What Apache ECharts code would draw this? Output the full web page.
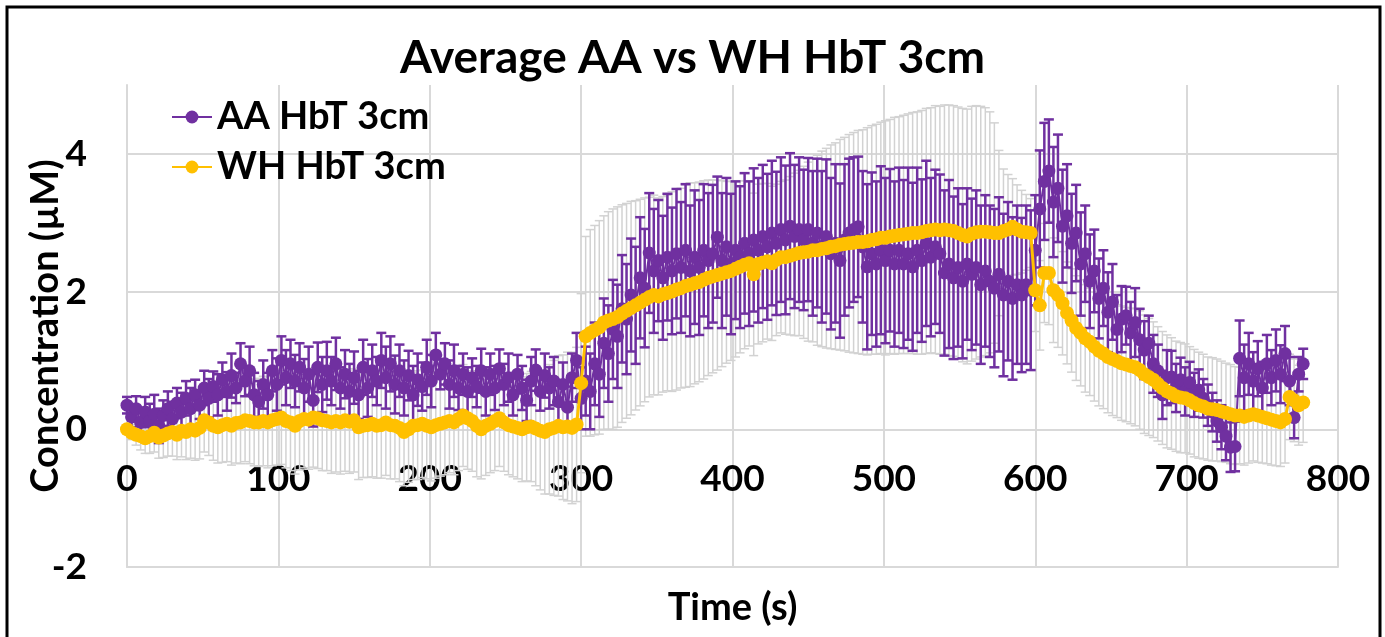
<!DOCTYPE html>
<html>
<head>
<meta charset="utf-8">
<script src="https://cdn.jsdelivr.net/npm/echarts@6/dist/echarts.min.js"></script>
<style>
  html, body { margin: 0; padding: 0; background: #fff; }
  #chart { width: 1385px; height: 637px; }
</style>
</head>
<body>
<div id="chart"></div>
<script>
// samples are 3 s apart, starting at t = 0
var step = 3;

var aaMean = [
  0.35, 0.18, 0.3, 0.1, 0.25, 0.12, 0.22, 0.05, 0.2, 0.3,
  0.15, 0.38, 0.25, 0.45, 0.3, 0.5, 0.35, 0.6, 0.45, 0.62,
  0.5, 0.72, 0.55, 0.78, 0.6, 0.95, 0.7, 0.85, 0.5, 0.4,
  0.65, 0.5, 0.85, 0.65, 1.0, 0.75, 0.95, 0.7, 0.9, 0.6,
  0.8, 0.42, 0.9, 0.65, 0.85, 0.7, 0.95, 0.6, 0.8, 0.55,
  0.75, 0.5, 0.9, 0.6, 0.85, 0.7, 1.0, 0.75, 0.95, 0.65,
  0.85, 0.6, 0.78, 0.5, 0.72, 0.62, 0.9, 0.7, 1.08, 0.8,
  0.95, 0.65, 0.85, 0.6, 0.8, 0.55, 0.75, 0.62, 0.85, 0.55,
  0.8, 0.6, 0.88, 0.65, 0.75, 0.5, 0.8, 0.6, 0.42, 0.7,
  0.86, 0.55, 0.78, 0.6, 0.7, 0.4, 0.65, 0.32, 0.75, 1.0,
  0.45, 0.7, 0.55, 0.95, 0.8, 1.25, 1.1, 1.45, 1.35, 1.75,
  1.6, 1.95, 1.8, 2.2, 2.05, 2.56, 2.3, 2.45, 2.2, 2.5,
  2.3, 2.55, 2.35, 2.6, 2.3, 2.5, 2.35, 2.6, 2.45, 2.55,
  2.79, 2.45, 2.65, 2.4, 2.6, 2.5, 2.7, 2.55, 2.75, 2.6,
  2.8, 2.65, 2.85, 2.7, 2.9, 2.75, 2.95, 2.8, 2.9, 2.75,
  2.9, 2.7, 2.85, 2.65, 2.8, 2.55, 2.7, 2.45, 2.75, 2.85,
  2.9, 2.94, 2.65, 2.36, 2.55, 2.4, 2.6, 2.45, 2.6, 2.4,
  2.6, 2.4, 2.55, 2.36, 2.6, 2.45, 2.7, 2.5, 2.65, 2.55,
  2.27, 2.4, 2.2, 2.35, 2.15, 2.4, 2.25, 2.35, 2.1, 2.3,
  2.15, 2.05, 2.25, 1.95, 2.15, 1.9, 2.1, 1.95, 2.1, 2.02,
  2.6, 3.2, 3.6, 3.75, 3.3, 3.5, 2.95, 3.1, 2.7, 2.85,
  2.4, 2.55, 2.15, 2.3, 1.9, 2.05, 1.7, 1.85, 1.45, 1.6,
  1.65, 1.4, 1.55, 1.3, 1.15, 1.25, 0.95, 0.85, 0.5, 0.75,
  0.76, 0.6, 0.72, 0.55, 0.68, 0.5, 0.57, 0.45, 0.35, 0.25,
  0.12, 0.03, -0.1, -0.26, -0.25, 1.03, 0.75, 0.95, 0.7, 0.88,
  0.6, 0.95, 0.75, 1.0, 0.8, 1.1, 0.7, 0.17, 0.8, 0.95
];

var aaErr = [
  0.12, 0.15, 0.18, 0.2, 0.22, 0.25, 0.28, 0.25, 0.22, 0.25,
  0.25, 0.22, 0.28, 0.25, 0.3, 0.22, 0.2, 0.25, 0.28, 0.22,
  0.3, 0.25, 0.28, 0.32, 0.22, 0.3, 0.22, 0.35, 0.32, 0.3,
  0.35, 0.32, 0.3, 0.38, 0.35, 0.4, 0.35, 0.38, 0.35, 0.42,
  0.4, 0.38, 0.36, 0.4, 0.42, 0.35, 0.38, 0.3, 0.35, 0.4,
  0.38, 0.35, 0.4, 0.42, 0.38, 0.35, 0.4, 0.45, 0.4, 0.42,
  0.38, 0.4, 0.36, 0.42, 0.38, 0.35, 0.4, 0.38, 0.32, 0.22,
  0.3, 0.35, 0.38, 0.32, 0.3, 0.35, 0.28, 0.3, 0.32, 0.35,
  0.3, 0.32, 0.28, 0.3, 0.35, 0.3, 0.28, 0.32, 0.3, 0.35,
  0.3, 0.28, 0.32, 0.3, 0.35, 0.3, 0.32, 0.3, 0.35, 0.4,
  0.45, 0.5, 0.55, 0.6, 0.62, 0.65, 0.7, 0.72, 0.75, 0.78,
  0.8, 0.82, 0.85, 0.88, 0.86, 0.87, 0.9, 0.88, 0.9, 0.92,
  0.92, 0.94, 0.95, 0.96, 0.95, 0.97, 0.98, 0.96, 0.98, 1.0,
  0.88, 0.98, 1.0, 1.02, 1.0, 1.03, 1.02, 1.05, 1.04, 1.05,
  1.04, 1.06, 1.05, 1.04, 1.05, 1.08, 1.06, 1.04, 1.05, 1.02,
  1.04, 1.05, 1.08, 1.1, 1.12, 1.1, 1.15, 1.12, 1.1, 1.08,
  1.05, 1.02, 1.1, 1.2, 1.18, 1.2, 1.22, 1.2, 1.18, 1.2,
  1.2, 1.22, 1.25, 1.22, 1.2, 1.18, 1.2, 1.15, 1.12, 1.15,
  1.2, 1.22, 1.18, 1.15, 1.12, 1.1, 1.1, 1.12, 1.15, 1.1,
  1.1, 1.15, 1.12, 1.18, 1.15, 1.18, 1.15, 1.12, 1.15, 1.16,
  0.8, 0.85, 0.85, 0.75, 0.8, 0.78, 0.82, 0.75, 0.72, 0.7,
  0.75, 0.7, 0.68, 0.6, 0.58, 0.55, 0.58, 0.55, 0.5, 0.48,
  0.42, 0.45, 0.5, 0.45, 0.42, 0.4, 0.42, 0.38, 0.35, 0.4,
  0.38, 0.35, 0.32, 0.35, 0.3, 0.32, 0.3, 0.28, 0.3, 0.28,
  0.3, 0.32, 0.35, 0.36, 0.36, 0.55, 0.48, 0.45, 0.42, 0.4,
  0.38, 0.42, 0.4, 0.45, 0.42, 0.4, 0.35, 0.3, 0.25, 0.22
];

var whMean = [
  0.0, -0.05, -0.08, -0.1, -0.13, -0.1, -0.05, -0.12, -0.09, -0.06,
  -0.04, -0.08, -0.02, -0.04, 0.0, -0.02, 0.02, 0.13, 0.1, 0.05,
  0.03, 0.06, 0.08, 0.05, 0.09, 0.1, 0.13, 0.12, 0.1, 0.1,
  0.12, 0.1, 0.13, 0.15, 0.17, 0.12, 0.1, 0.05, 0.12, 0.15,
  0.14, 0.17, 0.16, 0.13, 0.12, 0.1, 0.12, 0.1, 0.13, 0.11,
  0.13, 0.03, 0.05, 0.06, 0.08, 0.05, 0.06, 0.1, 0.06, 0.05,
  0.02, -0.04, 0.0, 0.05, 0.06, 0.08, 0.05, 0.03, 0.06, 0.08,
  0.1, 0.12, 0.1, 0.15, 0.2, 0.16, 0.12, 0.05, 0.0, 0.05,
  0.08, 0.12, 0.16, 0.1, 0.06, 0.04, 0.02, 0.0, 0.03, 0.04,
  0.01, -0.02, -0.04, 0.0, 0.02, 0.05, 0.03, 0.04, 0.02, 0.07,
  0.67, 1.35, 1.4, 1.44, 1.48, 1.55, 1.58, 1.6, 1.63, 1.68,
  1.72, 1.76, 1.8, 1.84, 1.88, 1.92, 1.95, 1.93, 1.96, 1.98,
  2.0, 2.03, 2.05, 2.08, 2.1, 2.12, 2.14, 2.17, 2.2, 2.22,
  2.24, 2.26, 2.28, 2.3, 2.33, 2.36, 2.39, 2.41, 2.25, 2.4,
  2.42, 2.44, 2.41, 2.46, 2.5, 2.5, 2.52, 2.54, 2.56, 2.57,
  2.58, 2.6, 2.6, 2.62, 2.63, 2.65, 2.66, 2.68, 2.69, 2.7,
  2.71, 2.72, 2.72, 2.73, 2.75, 2.76, 2.78, 2.78, 2.8, 2.81,
  2.82, 2.83, 2.84, 2.85, 2.85, 2.86, 2.88, 2.89, 2.9, 2.89,
  2.9, 2.89, 2.88, 2.85, 2.82, 2.8, 2.84, 2.86, 2.87, 2.87,
  2.86, 2.85, 2.85, 2.88, 2.9, 2.94, 2.9, 2.87, 2.86, 2.85,
  2.02, 1.8, 2.27, 2.27, 2.02, 1.95, 1.83, 1.69, 1.58, 1.47,
  1.4, 1.32, 1.27, 1.2, 1.14, 1.1, 1.05, 1.02, 0.99, 0.96,
  0.94, 0.92, 0.9, 0.86, 0.8, 0.76, 0.72, 0.66, 0.6, 0.55,
  0.52, 0.48, 0.46, 0.45, 0.42, 0.38, 0.35, 0.33, 0.3, 0.29,
  0.28, 0.26, 0.24, 0.22, 0.2, 0.2, 0.18, 0.2, 0.22, 0.2,
  0.18, 0.16, 0.14, 0.12, 0.1, 0.15, 0.47, 0.42, 0.35, 0.39
];

var whErr = [
  0.05, 0.1, 0.15, 0.2, 0.22, 0.25, 0.28, 0.3, 0.32, 0.33,
  0.35, 0.36, 0.38, 0.4, 0.42, 0.43, 0.45, 0.46, 0.48, 0.5,
  0.52, 0.54, 0.55, 0.57, 0.58, 0.6, 0.6, 0.62, 0.63, 0.64,
  0.65, 0.66, 0.66, 0.67, 0.68, 0.68, 0.7, 0.7, 0.71, 0.71,
  0.72, 0.72, 0.73, 0.73, 0.72, 0.74, 0.74, 0.75, 0.74, 0.75,
  0.75, 0.76, 0.75, 0.76, 0.77, 0.76, 0.77, 0.77, 0.78, 0.77,
  0.78, 0.78, 0.77, 0.78, 0.79, 0.78, 0.77, 0.78, 0.77, 0.76,
  0.76, 0.75, 0.76, 0.75, 0.74, 0.74, 0.73, 0.74, 0.72, 0.72,
  0.71, 0.72, 0.7, 0.71, 0.72, 0.73, 0.74, 0.76, 0.78, 0.8,
  0.83, 0.86, 0.9, 0.94, 0.98, 1.02, 1.05, 1.08, 1.1, 1.12,
  1.3, 1.45, 1.5, 1.52, 1.55, 1.55, 1.58, 1.6, 1.6, 1.58,
  1.56, 1.55, 1.52, 1.5, 1.48, 1.45, 1.45, 1.43, 1.42, 1.42,
  1.45, 1.46, 1.45, 1.47, 1.48, 1.46, 1.45, 1.44, 1.42, 1.4,
  1.38, 1.35, 1.32, 1.3, 1.28, 1.25, 1.22, 1.2, 1.18, 1.16,
  1.15, 1.13, 1.12, 1.1, 1.1, 1.12, 1.15, 1.18, 1.2, 1.25,
  1.3, 1.33, 1.38, 1.42, 1.45, 1.48, 1.5, 1.53, 1.55, 1.58,
  1.6, 1.62, 1.63, 1.65, 1.66, 1.67, 1.68, 1.7, 1.7, 1.72,
  1.72, 1.73, 1.74, 1.75, 1.76, 1.77, 1.78, 1.78, 1.8, 1.8,
  1.81, 1.82, 1.82, 1.83, 1.84, 1.85, 1.85, 1.84, 1.82, 1.8,
  1.75, 1.6, 1.2, 0.9, 0.8, 0.7, 0.65, 0.6, 0.55, 0.5,
  0.6, 0.65, 0.72, 0.75, 0.76, 0.76, 0.75, 0.74, 0.75, 0.76,
  0.77, 0.78, 0.78, 0.79, 0.8, 0.8, 0.81, 0.82, 0.82, 0.83,
  0.83, 0.84, 0.85, 0.86, 0.86, 0.85, 0.84, 0.83, 0.82, 0.82,
  0.81, 0.8, 0.8, 0.79, 0.78, 0.78, 0.77, 0.76, 0.75, 0.75,
  0.74, 0.73, 0.72, 0.72, 0.71, 0.7, 0.7, 0.69, 0.68, 0.68,
  0.67, 0.66, 0.66, 0.65, 0.64, 0.64, 0.62, 0.6, 0.58, 0.58
];

var aaName = 'AA HbT 3cm';
var whName = 'WH HbT 3cm';
var purple = '#7030A0';
var gold = '#FFC000';
var barGray = '#D2D2D2';
var gridGray = '#D9D9D9';
var font = 'Lato';

function points(mean) {
  return mean.map(function (v, i) { return [i * step, v]; });
}

function bars(mean, err) {
  return mean.map(function (v, i) { return [i * step, v - err[i], v + err[i]]; });
}

function errorBars(data, color, width, capWidth, z) {
  return {
    type: 'custom',
    silent: true,
    z: z,
    data: data,
    encode: { x: 0, y: [1, 2] },
    renderItem: function (params, api) {
      var x = api.value(0);
      var lo = api.coord([x, api.value(1)]);
      var hi = api.coord([x, api.value(2)]);
      var half = capWidth / 2;
      var style = { stroke: color, lineWidth: width };
      return {
        type: 'group',
        children: [
          { type: 'line', shape: { x1: lo[0], y1: lo[1], x2: hi[0], y2: hi[1] }, style: style },
          { type: 'line', shape: { x1: lo[0] - half, y1: lo[1], x2: lo[0] + half, y2: lo[1] }, style: style },
          { type: 'line', shape: { x1: hi[0] - half, y1: hi[1], x2: hi[0] + half, y2: hi[1] }, style: style }
        ]
      };
    }
  };
}

var chart = echarts.init(document.getElementById('chart'));

var boldText = { fontFamily: font, fontWeight: 'bold', color: '#000' };

var option = {
  backgroundColor: '#fff',
  animation: false,
  title: {
    text: 'Average AA vs WH HbT 3cm',
    left: 'center',
    top: 30,
    textStyle: Object.assign({ fontSize: 46 }, boldText)
  },
  legend: {
    data: [aaName, whName],
    orient: 'vertical',
    left: 166,
    top: 93,
    itemWidth: 40,
    itemHeight: 16,
    itemGap: 12,
    textStyle: Object.assign({ fontSize: 38 }, boldText)
  },
  grid: { left: 127, right: 47, top: 85, bottom: 70, outerBoundsMode: 'none' },
  xAxis: {
    type: 'value',
    min: 0,
    max: 800,
    interval: 100,
    name: 'Time (s)',
    nameLocation: 'middle',
    nameGap: 22,
    nameTextStyle: Object.assign({ fontSize: 38 }, boldText),
    // the labels sit under the zero line, not under the bottom edge
    axisLine: { onZero: false, lineStyle: { color: gridGray, width: 2 } },
    axisTick: { show: false },
    axisLabel: Object.assign({ margin: -106, fontSize: 37 }, boldText),
    splitLine: { show: true, lineStyle: { color: gridGray, width: 2 } }
  },
  yAxis: {
    type: 'value',
    min: -2,
    max: 5,
    interval: 2,
    name: 'Concentration (µM)',
    nameLocation: 'middle',
    nameRotate: 90,
    nameGap: 62,
    nameMoveOverlap: false,
    nameTextStyle: Object.assign({ fontSize: 38 }, boldText),
    axisLine: { show: true, lineStyle: { color: gridGray, width: 2 } },
    axisTick: { show: false },
    axisLabel: Object.assign({ margin: 40, showMaxLabel: false, fontSize: 37 }, boldText),
    splitLine: { show: true, showMaxLine: false, lineStyle: { color: gridGray, width: 2 } }
  },
  graphic: [
    {
      type: 'rect',
      shape: { x: 7, y: 7, width: 1373, height: 650 },
      style: { fill: null, stroke: '#000', lineWidth: 3 },
      silent: true
    }
  ],
  series: [
    errorBars(bars(whMean, whErr), barGray, 1.5, 9, 1),
    errorBars(bars(aaMean, aaErr), purple, 2.5, 10, 2),
    {
      name: aaName,
      type: 'line',
      z: 3,
      data: points(aaMean),
      symbol: 'circle',
      symbolSize: 13,
      showAllSymbol: true,
      lineStyle: { color: purple, width: 2 },
      itemStyle: { color: purple },
      emphasis: { disabled: true }
    },
    {
      name: whName,
      type: 'line',
      z: 4,
      data: points(whMean),
      symbol: 'circle',
      symbolSize: 14,
      showAllSymbol: true,
      lineStyle: { color: gold, width: 3 },
      itemStyle: { color: gold },
      emphasis: { disabled: true }
    }
  ]
};

chart.setOption(option);
</script>
</body>
</html>
